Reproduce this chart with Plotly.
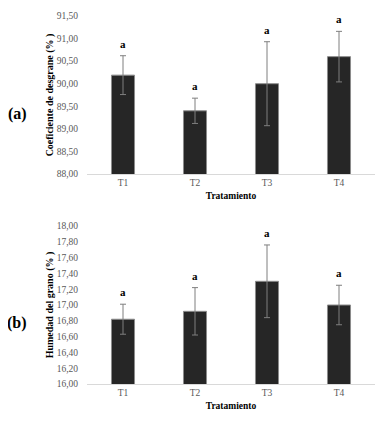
import plotly.graph_objects as go

categories = ["T1", "T2", "T3", "T4"]
desgrane = [90.19, 89.40, 90.00, 90.60]
desgrane_err = [0.43, 0.28, 0.93, 0.56]
humedad = [16.82, 16.92, 17.30, 17.00]
humedad_err = [0.19, 0.30, 0.46, 0.25]
letters_a = ["a", "a", "a", "a"]
letters_b = ["a", "a", "a", "a"]
ticks_a = [88.0, 88.5, 89.0, 89.5, 90.0, 90.5, 91.0, 91.5]
ticks_b = [16.0, 16.2, 16.4, 16.6, 16.8, 17.0, 17.2, 17.4, 17.6, 17.8, 18.0]

FONT = "Liberation Serif"
BAR = "#262626"
GREY = "#7f7f7f"

# the page body has an 8px default margin: figure is drawn offset by 8px
OFF = 8
W, H = 384 - OFF, 421 - OFF
L, R, T, B = 87 - OFF, 9, 16 - OFF, 37
pw, ph = W - L - R, H - T - B

fig = go.Figure()

def add_panel(vals, errs, xa, ya):
    fig.add_trace(go.Bar(
        x=categories, y=vals, xaxis=xa, yaxis=ya,
        marker=dict(color=BAR, line=dict(color="#8c8c8c", width=1)),
        error_y=dict(type="data", array=errs, visible=True, color=GREY,
                     thickness=1, width=3),
        showlegend=False, hoverinfo="skip",
    ))

add_panel(desgrane, desgrane_err, "x", "y")
add_panel(humedad, humedad_err, "x2", "y2")

annotations = []
for c, v, e, t in zip(categories, desgrane, desgrane_err, letters_a):
    annotations.append(dict(x=c, y=v + e, xref="x", yref="y", text="<b>%s</b>" % t,
                            showarrow=False, yanchor="middle", yshift=12,
                            font=dict(family=FONT, size=11, color="#000")))
for c, v, e, t in zip(categories, humedad, humedad_err, letters_b):
    annotations.append(dict(x=c, y=v + e, xref="x2", yref="y2", text="<b>%s</b>" % t,
                            showarrow=False, yanchor="middle", yshift=12,
                            font=dict(family=FONT, size=11, color="#000")))

def px_to_paper(xp, yp):
    xf, yf = xp - OFF, yp - OFF
    return (xf - L) / pw, (H - B - yf) / ph

ax, ay = px_to_paper(17, 114)
bx, by = px_to_paper(17, 323)
annotations.append(dict(x=ax, y=ay, xref="paper", yref="paper", text="<b>(a)</b>",
                        showarrow=False, xanchor="center", yanchor="middle",
                        font=dict(family=FONT, size=16, color="#000")))
annotations.append(dict(x=bx, y=by, xref="paper", yref="paper", text="<b>(b)</b>",
                        showarrow=False, xanchor="center", yanchor="middle",
                        font=dict(family=FONT, size=16, color="#000")))

sub_h = 158
top_dom = [1 - sub_h / ph, 1]
bot_dom = [0, sub_h / ph]

tickfont = dict(family=FONT, size=9.5, color="#595959")
titlefont_y = dict(family=FONT, size=10, color="#000")
titlefont_x = dict(family=FONT, size=9.5, color="#000")

xcommon = dict(type="category", showline=True, linecolor="#d9d9d9", linewidth=1,
               showgrid=False, ticks="", tickfont=tickfont, zeroline=False,
               automargin=False)
ycommon = dict(showline=False, showgrid=False, zeroline=False, ticks="outside",
               ticklen=6, tickcolor="rgba(0,0,0,0)", tickfont=tickfont,
               tickformat=".2f", automargin=False)

fig.update_layout(
    width=W, height=H,
    margin=dict(l=L, r=R, t=T, b=B),
    paper_bgcolor="white", plot_bgcolor="white",
    separators=",.",
    bargap=0.68,
    xaxis=dict(domain=[0, 1], anchor="y",
               title=dict(text="<b>Tratamiento</b>", font=titlefont_x, standoff=4),
               **xcommon),
    yaxis=dict(domain=top_dom, anchor="x", range=[88, 91.5], tickvals=ticks_a,
               title=dict(text="<b>Coeficiente de desgrane (% )</b>", font=titlefont_y, standoff=1),
               **ycommon),
    xaxis2=dict(domain=[0, 1], anchor="y2",
                title=dict(text="<b>Tratamiento</b>", font=titlefont_x, standoff=4),
                **xcommon),
    yaxis2=dict(domain=bot_dom, anchor="x2", range=[16, 18], tickvals=ticks_b,
                title=dict(text="<b>Humedad del grano (% )</b>", font=titlefont_y, standoff=1),
                **ycommon),
    annotations=annotations,
)

fig.write_html("out.html")
